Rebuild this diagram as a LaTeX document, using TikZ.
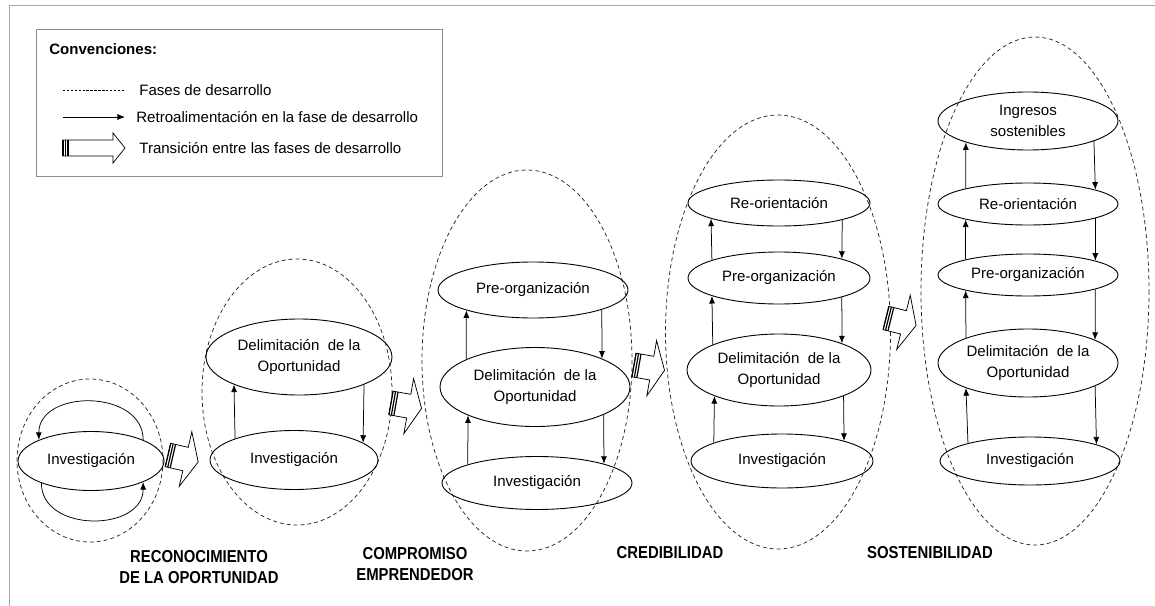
\documentclass[tikz,border=0pt]{standalone}
\usepackage{fontspec}
\setmainfont{Liberation Sans}
\newfontfamily\faseFont[FakeStretch=0.86]{Liberation Sans}
\usetikzlibrary{shapes.geometric,arrows.meta}

\tikzset{
	fase/.style={draw=black!85, dash pattern=on 2.6pt off 2pt, line width=.5pt},
	etapa/.style 2 args={draw, ellipse, line width=.6pt, align=center, inner sep=0pt,
		minimum width=#1*1.33pt, minimum height=#2*1.33pt, font=\fontsize{10}{14}\selectfont},
	titulo/.style={align=center, font=\faseFont\bfseries\fontsize{11.5}{14}\selectfont},
	leyenda/.style={anchor=west, inner sep=0pt},
	pics/transicion/.style n args={4}{code={
		\draw[line width=.5pt, fill=white] (0,-#2) -- (#1,-#2) -- (#1,-#3) -- ({#1+#4},0) -- (#1,#3) -- (#1,#2) -- (0,#2) -- cycle;
		\foreach \s in {0,2.5,5}
			\draw[line width=.8pt] (\s,-#2) -- (\s,#2);
	}}
}

\begin{document}
\begin{tikzpicture}[x=0.665pt, y=-0.665pt, >={Latex[length=5pt,width=4pt]}, line width=.5pt]
	\useasboundingbox (0,0) rectangle (1155,606);
	\draw[black!35] (9,606) -- (9,5) -- (1155,5);

	% convenciones
	\begin{scope}
		\draw[black!45] (36,29) rectangle (442,176);
		\node[leyenda, font=\bfseries] (conv) at (49,49) {Convenciones:};
		\coordinate (f0) at (63,90);
		\coordinate (f1) at (124,90);
		\draw[dash pattern=on 1.6pt off 1pt, line width=.4pt] (f0) -- (f1);
		\node[leyenda] (lfase) at (139,90) {Fases de desarrollo};
		\coordinate (r0) at (63,117);
		\coordinate (r1) at (125,117);
		\draw[->] (r0) -- (r1);
		\node[leyenda] (lretro) at (136,117) {Retroalimentación en la fase de desarrollo};
		\pic at (63,148) {transicion={50}{8}{15}{12}};
		\node[leyenda] (ltrans) at (139,148) {Transición entre las fases de desarrollo};
	\end{scope}

	% reconocimiento de la oportunidad
	\draw[fase] (90,460.5) ellipse [x radius=73, y radius=81.5];
	\node[etapa={73}{29.5}] (inv1) at (91,461) {Investigación};
	\draw[->] (inv1.22) .. controls +(0,-51) and +(0,-51) .. (inv1.158);
	\draw[->] (inv1.204) .. controls +(0,50) and +(0,50) .. (inv1.338);
	\node[titulo] (t1) at (199,567) {RECONOCIMIENTO\\DE LA OPORTUNIDAD};

	% compromiso emprendedor
	\draw[fase] (297,392) ellipse [x radius=95, y radius=133];
	\node[etapa={93}{38}] (del2) at (299,357) {Delimitación~ de la\\Oportunidad};
	\node[etapa={84}{29.5}] (inv2) at (294,460) {Investigación};
	\draw[->] (inv2.160) -- (del2.203);
	\draw[->] (del2.337) -- (inv2.14);
	\node[titulo] (t2) at (415,564) {COMPROMISO\\EMPRENDEDOR};

	% credibilidad
	\draw[fase] (527,360.5) ellipse [x radius=105, y radius=190.5];
	\node[etapa={95}{28}] (pre3) at (533,290) {Pre-organización};
	\node[etapa={95}{39.5}] (del3) at (535,387) {Delimitación~ de la\\Oportunidad};
	\node[etapa={95}{26.5}] (inv3) at (537,483) {Investigación};
	\foreach \a/\b/\p/\q/\r/\s in {del3/pre3/158/197/344/23, inv3/del3/165/203/338/16} {
		\draw[->] (\a.\p) -- (\b.\q);
		\draw[->] (\b.\r) -- (\a.\s);
	};
	\node[titulo] (t3) at (670,553) {CREDIBILIDAD};

	% (re-orientacion)
	\draw[fase] (778,332) ellipse [x radius=112.5, y radius=217];
	\node[etapa={91}{23}] (reo4) at (779,203) {Re-orientación};
	\node[etapa={91}{26}] (pre4) at (779,278) {Pre-organización};
	\node[etapa={92}{36}] (del4) at (779,370) {Delimitación~ de la\\Oportunidad};
	\node[etapa={91}{27}] (inv4) at (782,461) {Investigación};
	\foreach \a/\b/\p/\q/\r/\s in {pre4/reo4/165/193/345/17, del4/pre4/159/195/343/23, inv4/del4/165/202/338/18} {
		\draw[->] (\a.\p) -- (\b.\q);
		\draw[->] (\b.\r) -- (\a.\s);
	};

	% sostenibilidad
	\draw[fase] (1035,291) ellipse [x radius=114, y radius=254];
	\node[etapa={90}{29}] (ing5) at (1028,121) {Ingresos\\sostenibles};
	\node[etapa={90}{21}] (reo5) at (1028,204) {Re-orientación};
	\node[etapa={90}{21}] (pre5) at (1028,275) {Pre-organización};
	\node[etapa={90}{34}] (del5) at (1028,363) {Delimitación~ de la\\Oportunidad};
	\node[etapa={90}{24}] (inv5) at (1030,461) {Investigación};
	\foreach \a/\b/\p/\q/\r/\s in {reo5/ing5/166/199/343/12, pre5/reo5/166/194/348/12, del5/pre5/158/194/348/19, inv5/del5/164/202/341/14} {
		\draw[->] (\a.\p) -- (\b.\q);
		\draw[->] (\b.\r) -- (\a.\s);
	};
	\node[titulo] (t4) at (930,553) {SOSTENIBILIDAD};

	% transiciones
	\foreach \x/\y/\r in {168/455/-13, 391/403/-10, 634/365/-10, 886/318/-14}
		\pic[rotate=\r] at (\x,\y) {transicion={18}{12}{28}{13}};
\end{tikzpicture}
\end{document}
